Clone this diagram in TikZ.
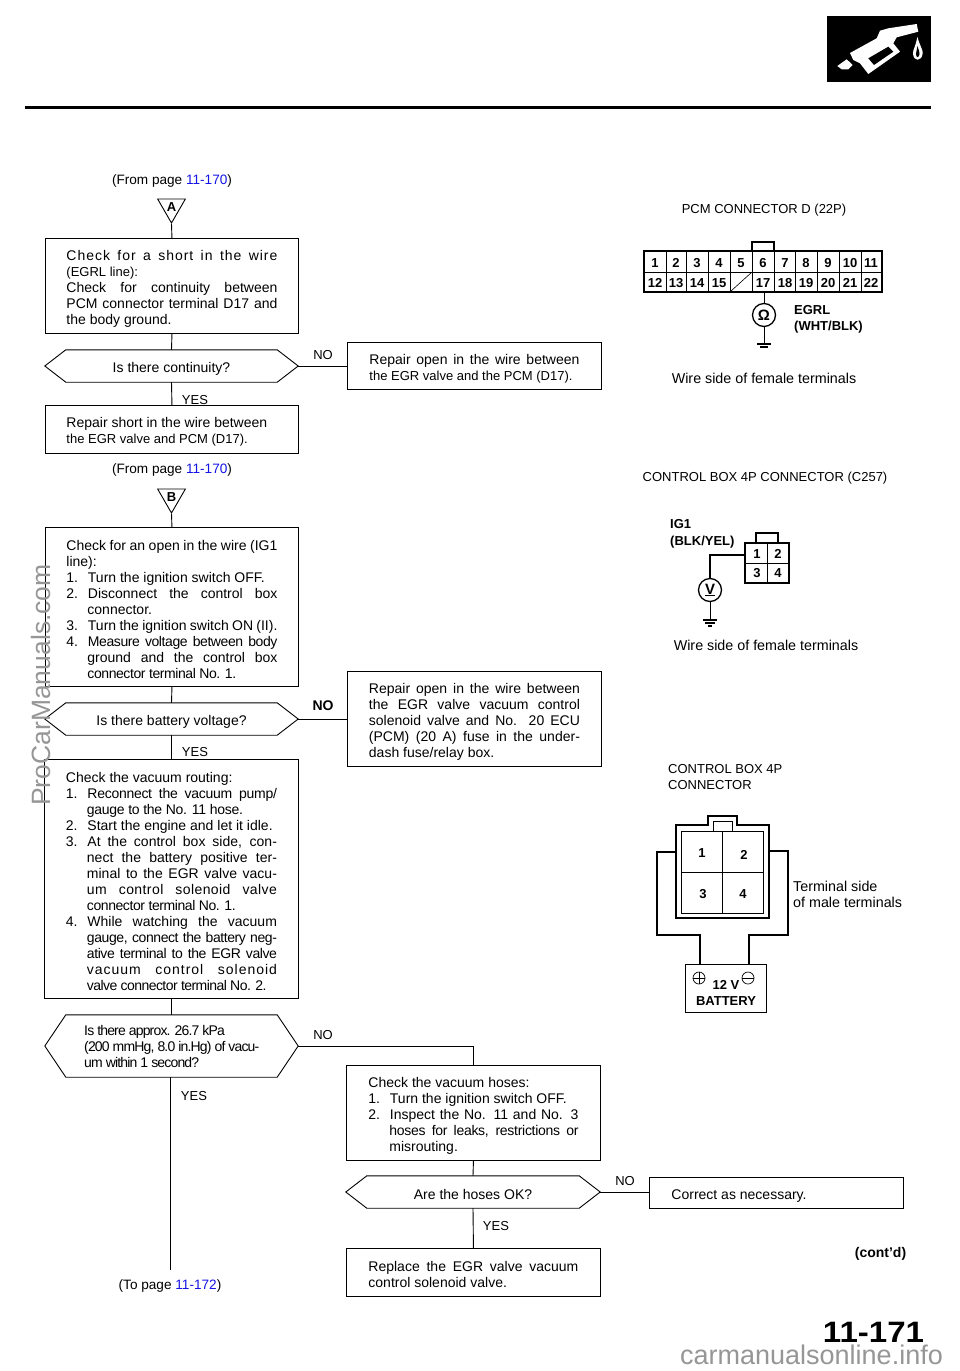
\documentclass[tikz,border=0pt]{standalone}
\usepackage{fontspec}
\usepackage{graphicx}
\setmainfont{Liberation Sans}
\usetikzlibrary{shapes.geometric}
\definecolor{linkblue}{RGB}{20,20,230}
\definecolor{markgray}{RGB}{150,150,150}
\newcommand{\stepitem}[1]{\par\hangindent=21pt\hangafter=1\relax\makebox[21.5pt][l]{#1}}
\newcommand{\pagelink}{\textcolor{linkblue}}
\newcommand{\spaced}[2]{{\addfontfeature{LetterSpace=#1}#2}}
\newcommand{\smallline}[1]{{\fontsize{13}{16}\selectfont #1}}
\newcommand{\hexa}[1]{\draw[wire] (#1.west) -- ([xshift=21pt]#1.north west) -- ([xshift=-21pt]#1.north east)
  -- (#1.east) -- ([xshift=-21pt]#1.south east) -- ([xshift=21pt]#1.south west) -- cycle;}
\tikzset{
  txt/.style={inner sep=0pt, font=\fontsize{13.6}{16}\selectfont},
  headtxt/.style={inner sep=0pt, font=\fontsize{13}{16}\selectfont},
  flag/.style={inner sep=0pt, font=\fontsize{13}{16}\selectfont},
  boxnode/.style={draw, line width=0.9pt, inner sep=0pt, anchor=north west, align=justify,
    font=\fontsize{14}{16}\selectfont, execute at begin node={\rule{0pt}{15pt}}},
  asknode/.style={inner sep=0pt, minimum width=253pt, font=\fontsize{14}{16}\selectfont,
    execute at begin node={\rule{0pt}{15pt}}},
  marker/.style={draw, line width=0.9pt, regular polygon, regular polygon sides=3, shape border rotate=180,
    minimum size=32pt, inner sep=0pt, font=\bfseries\fontsize{13}{13}\selectfont},
  meter/.style={draw, circle, line width=1.3pt, minimum size=23pt, inner sep=0pt, font=\bfseries\fontsize{15}{15}\selectfont},
  pin/.style={inner sep=0pt, font=\bfseries\fontsize{13}{14}\selectfont},
  wire/.style={line width=0.9pt},
  hwire/.style={line width=1.3pt}
}
\begin{document}
\begin{tikzpicture}[x=1pt,y=-1pt]
  \useasboundingbox (0,0) rectangle (960,1371);
  \fill[white] (0,0) rectangle (960,1371);

  % page head
  \fill (827,16) rectangle (931,82);
  \fill[white] (850,53) -- (876.7,38.3) -- (880,30.7) -- (888.3,28.3) -- (916.7,24) -- (918.3,31.7)
    -- (896.7,37.3) -- (893.3,43.3) -- (900,51.7) -- (868.3,74) -- (860,63.3) -- (853.3,60) -- cycle;
  \fill (868.3,58.3) -- (888.3,46.7) -- (893.3,51.7) -- (874,65) -- cycle;
  \fill[white] (837.3,66) -- (846.7,59.3) -- (852.7,65) -- (848.3,69.3) -- (841.7,69.3) -- cycle;
  \fill[white] (917.3,36.7) .. controls (920,46) and (923,50) .. (922.7,53)
    .. controls (922,62) and (913,62) .. (913,53) .. controls (913,49) and (916,46) .. (917.3,36.7);
  \fill (917.3,46) .. controls (918.5,50) and (920,52) .. (919.5,54)
    .. controls (919,58) and (916,58) .. (916,54) .. controls (916,52) and (917,50) .. (917.3,46);
  \draw[line width=3pt] (25,107) -- (931,107);

  % left column
  \node[txt] (fromA) at (172,181) {(From page \pagelink{11-170})};
  \node[marker] (triA) at (171.5,207) {A};
  \node[boxnode, minimum width=253pt, minimum height=95pt, text width=211pt] (boxA) at (45,238) {%
    \spaced{7}{Check for a short in the wire}\linebreak
    \smallline{(EGRL line):}\par
    Check for continuity between\linebreak
    PCM connector terminal D17 and\linebreak
    the body ground.};
  \node[asknode, minimum height=32pt] (askA) at (171.5,366) {Is there continuity?};
  \hexa{askA}
  \node[boxnode, minimum width=254pt, minimum height=47pt, text width=210pt] (fixA) at (347,342) {%
    Repair open in the wire between\linebreak
    \smallline{the EGR valve and the PCM (D17).}};
  \node[flag] (noA) at (323,355) {NO};
  \node[flag] (yesA) at (195,400) {YES};
  \node[boxnode, minimum width=253pt, minimum height=48pt, text width=211pt] (shortA) at (45,405) {%
    Repair short in the wire between\par
    \smallline{the EGR valve and PCM (D17).}};

  \node[txt] (fromB) at (172,470) {(From page \pagelink{11-170})};
  \node[marker] (triB) at (171.5,497) {B};
  \node[boxnode, minimum width=253pt, minimum height=159pt, text width=211pt] (boxB) at (45,527) {%
    Check for an open in the wire (IG1\linebreak
    line):
    \stepitem{1.}Turn the ignition switch OFF.
    \stepitem{2.}Disconnect the control box\linebreak connector.
    \stepitem{3.}Turn the ignition switch ON (II).
    \stepitem{4.}\spaced{-3}{Measure voltage between body}\linebreak
    ground and the control box\linebreak
    \spaced{-3}{connector terminal No. 1.}\par};
  \node[asknode, minimum height=32pt] (askB) at (171.5,719) {Is there battery voltage?};
  \hexa{askB}
  \node[boxnode, minimum width=254pt, minimum height=95pt, text width=211pt] (fixB) at (347,671) {%
    Repair open in the wire between\linebreak
    the EGR valve vacuum control\linebreak
    solenoid valve and No. 20 ECU\linebreak
    (PCM) (20 A) fuse in the under-\linebreak
    dash fuse/relay box.};
  \node[flag, font=\bfseries\fontsize{14}{16}\selectfont] (noB) at (323,706) {NO};
  \node[flag] (yesB) at (195,752) {YES};
  \node[boxnode, minimum width=254pt, minimum height=239pt, text width=211pt] (boxC) at (44,759) {%
    Check the vacuum routing:
    \stepitem{1.}\spaced{-2}{Reconnect the vacuum pump/}\linebreak
    \spaced{-2}{gauge to the No. 11 hose.}
    \stepitem{2.}Start the engine and let it idle.
    \stepitem{3.}At the control box side, con-\linebreak
    nect the battery positive ter-\linebreak
    minal to the EGR valve vacu-\linebreak
    \spaced{3}{um control solenoid valve}\linebreak
    \spaced{-3}{connector terminal No. 1.}
    \stepitem{4.}While watching the vacuum\linebreak
    \spaced{-3}{gauge, connect the battery neg-}\linebreak
    \spaced{-3}{ative terminal to the EGR valve}\linebreak
    \spaced{7}{vacuum control solenoid}\linebreak
    \spaced{-4}{valve connector terminal No. 2.}\par};
  \node[asknode, minimum height=62pt] (askC) at (171.5,1046) {};
  \hexa{askC}
  \node[inner sep=0pt, anchor=west, align=left, font=\fontsize{14}{16}\selectfont] (askCtext) at (84,1046) {%
    \spaced{-6}{Is there approx. 26.7 kPa}\\\spaced{-6}{(200 mmHg, 8.0 in.Hg) of vacu-}\\\spaced{-6}{um within 1 second?}};
  \node[flag] (noC) at (323,1035) {NO};
  \node[flag] (yesC) at (194,1096) {YES};
  \coordinate (toC) at (170,1270);
  \node[txt] (pageC) at (170,1286) {(To page \pagelink{11-172})};

  % middle column
  \node[boxnode, minimum width=254pt, minimum height=95pt, text width=210pt] (boxD) at (346,1065) {%
    Check the vacuum hoses:
    \stepitem{1.}Turn the ignition switch OFF.
    \stepitem{2.}Inspect the No. 11 and No. 3\linebreak
    \spaced{-2}{hoses for leaks, restrictions or}\linebreak
    misrouting.\par};
  \node[asknode, minimum width=254pt, minimum height=32pt] (askD) at (473,1192) {Are the hoses OK?};
  \hexa{askD}
  \node[flag] (noD) at (625,1181) {NO};
  \node[flag] (yesD) at (496,1226) {YES};
  \node[boxnode, minimum width=254pt, minimum height=31pt, text width=210pt] (fixD) at (649,1177) {Correct as necessary.};
  \node[boxnode, minimum width=254pt, minimum height=48pt, text width=210pt] (fixC) at (346,1248) {%
    Replace the EGR valve vacuum\linebreak
    control solenoid valve.};

  % flow lines
  \draw[wire] (triA.corner 1) -- (boxA.north);
  \draw[wire] (boxA.south) -- (askA.north);
  \draw[wire] (askA.east) -- (askA.east -| fixA.west);
  \draw[wire] (askA.south) -- (shortA.north);
  \draw[wire] (triB.corner 1) -- (boxB.north);
  \draw[wire] (boxB.south) -- (askB.north);
  \draw[wire] (askB.east) -- (askB.east -| fixB.west);
  \draw[wire] (askB.south) -- (boxC.north -| askB.south);
  \draw[wire] (boxC.south -| askC.north) -- (askC.north);
  \draw[wire] (askC.east) -| (boxD.north);
  \draw[wire] (askC.south -| toC) -- (toC);
  \draw[wire] (boxD.south) -- (askD.north);
  \draw[wire] (askD.east) -- (askD.east -| fixD.west);
  \draw[wire] (askD.south) -- (fixC.north);

  % PCM connector
  \node[headtxt] (pcmTitle) at (764,210) {PCM CONNECTOR D (22P)};
  \draw[hwire] (644,251) rectangle (882,292);
  \draw[hwire] (752,251) -- (752,242) -- (774,242) -- (774,251);
  \draw[line width=1pt] (644,272) -- (882,272);
  \foreach \xa in {666,686,708,730,752,774,795,817,839,861}
    \draw[line width=1pt] (\xa,251) -- (\xa,292);
  \draw[line width=0.6pt] (731,291) -- (752,272);
  \foreach \xa/\lab in {655/1,676/2,697/3,719/4,741/5,763/6,785/7,806/8,828/9,850/10,871/11}
    \node[pin] (p\lab) at (\xa,263) {\lab};
  \foreach \xa/\lab in {655/12,676/13,697/14,719/15,763/17,785/18,806/19,828/20,850/21,871/22}
    \node[pin] (p\lab) at (\xa,283) {\lab};
  \node[meter] (ohm) at (764,315) {Ω};
  \coordinate (gndA) at (764,344);
  \draw[wire] (764,292) -- (ohm.north);
  \draw[wire] (ohm.south) -- (gndA);
  \draw[line width=1.2pt] (757,344) -- (771,344) (760,347) -- (768,347);
  \node[pin, anchor=west, align=left, font=\bfseries\fontsize{13}{16}\selectfont] (egrl) at (794,319) {EGRL\\(WHT/BLK)};
  \node[txt, font=\fontsize{14.3}{16}\selectfont] (wireA) at (764,378) {Wire side of female terminals};

  % control box, wire side
  \node[headtxt] (boxTitle) at (765,478) {CONTROL BOX 4P CONNECTOR (C257)};
  \node[pin, anchor=west, align=left, font=\bfseries\fontsize{13}{16.5}\selectfont] (ig) at (670,534) {IG1\\(BLK/YEL)};
  \draw[hwire] (745,543) rectangle (789,583);
  \draw[hwire] (756,543) -- (756,533) -- (778,533) -- (778,543);
  \draw[line width=0.8pt] (745,563) -- (789,563) (767,543) -- (767,583);
  \foreach \xa/\ya/\lab in {757/554/1,778/554/2,757/573/3,778/573/4}
    \node[pin] (q\lab) at (\xa,\ya) {\lab};
  \node[meter] (volt) at (710,590) {\underline{V}};
  \coordinate (gndB) at (710,620);
  \draw[hwire] (745,555) -| (volt.north);
  \draw[wire] (volt.south) -- (gndB);
  \draw[line width=1.2pt] (703,620) -- (717,620) (705,623) -- (715,623) (708,626) -- (712,626);
  \node[txt, font=\fontsize{14.3}{16}\selectfont] (wireB) at (766,645) {Wire side of female terminals};

  % control box, terminal side
  \node[headtxt, anchor=west, align=left] (maleTitle) at (668,777) {CONTROL BOX 4P\\CONNECTOR};
  \draw[line width=1.2pt] (708,825) -- (708,816) -- (737,816) -- (737,825) -- (769,825) -- (769,918) -- (676,918) -- (676,825) -- cycle;
  \draw[line width=0.7pt] (681,831) rectangle (763,913);
  \draw[line width=0.7pt] (713,831) -- (713,821) -- (732,821) -- (732,831);
  \draw[line width=0.7pt] (722,831) -- (722,913) (681,872) -- (763,872);
  \foreach \xa/\ya/\lab in {702/853/1,744/855/2,703/894/3,743/894/4}
    \node[pin] (m\lab) at (\xa,\ya) {\lab};
  \node[txt, anchor=west, align=left, font=\fontsize{14.3}{16}\selectfont] (maleNote) at (793,894) {Terminal side\\of male terminals};
  \node[draw, line width=0.9pt, minimum width=81pt, minimum height=48pt, inner sep=0pt] (batt) at (725.5,988) {};
  \node[pin, align=center, font=\bfseries\fontsize{13}{16}\selectfont] (battLabel) at (726,993) {12 V\\BATTERY};
  \node[draw, circle, line width=0.7pt, minimum size=12pt, inner sep=0pt] (plus) at (699,978) {};
  \node[draw, circle, line width=0.7pt, minimum size=12pt, inner sep=0pt] (minus) at (748,978) {};
  \draw[line width=0.7pt] (plus.west) -- (plus.east) (plus.north) -- (plus.south) (minus.west) -- (minus.east);
  \draw[hwire] (676,852) -- (657,852) -- (657,935) -- (700,935) -- (700,964);
  \draw[hwire] (769,851) -- (788,851) -- (788,935) -- (749,935) -- (749,964);

  % page foot
  \node[txt, font=\bfseries\fontsize{14}{16}\selectfont] (contd) at (880.5,1254) {(cont'd)};
  \node[txt, anchor=base, font=\bfseries\fontsize{29.5}{30}\selectfont] (pageNo) at (873.5,1342.5) {\scalebox{1.12}[1]{11-171}};
  \node[txt, font=\fontsize{26.5}{27}\selectfont, text=markgray, rotate=90] (markA) at (41,685) {ProCarManuals.com};
  \node[txt, anchor=base, font=\fontsize{27}{27}\selectfont, text=markgray] (markB) at (811.5,1364) {carmanualsonline.info};
\end{tikzpicture}
\end{document}
